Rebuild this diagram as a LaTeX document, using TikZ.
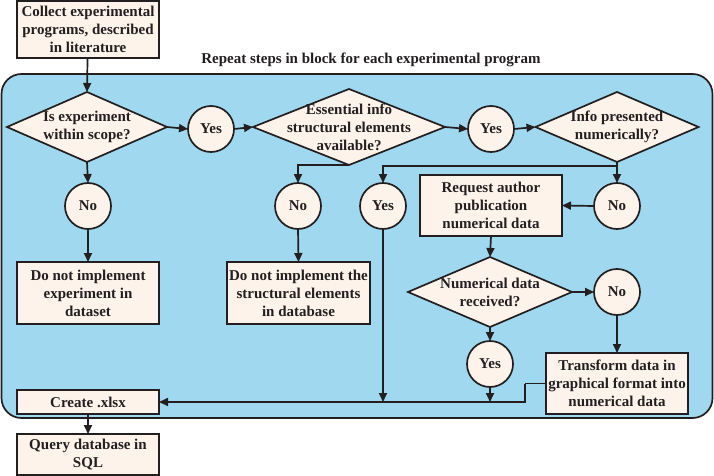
\documentclass[tikz,border=0pt]{standalone}
\usepackage{fontspec}
\setmainfont{Liberation Serif}
\usetikzlibrary{shapes.geometric,arrows.meta}
\definecolor{bluebg}{RGB}{160,216,239}
\definecolor{peach}{RGB}{253,243,234}
\definecolor{ink}{RGB}{35,31,32}
\begin{document}
\begin{tikzpicture}[x=1pt,y=-1pt,line width=1.7pt,
  txt/.style={font=\bfseries\fontsize{15}{18}\selectfont,text=ink,align=center},
  box/.style={txt,draw=ink,fill=peach,inner sep=0pt,outer sep=0pt},
  dia/.style={diamond,draw=ink,fill=peach,inner sep=0pt,outer sep=0pt},
  circ/.style={txt,circle,draw=ink,fill=peach,minimum size=46pt,inner sep=0pt,outer sep=0pt},
  arr/.style={draw=ink,-{Triangle[length=9pt,width=8pt]}},
  ln/.style={draw=ink}]
\useasboundingbox (0,0) rectangle (714,476);
% block
\node[draw=ink,fill=bluebg,rounded corners=20pt,minimum width=711pt,minimum height=344pt,inner sep=0pt] (blk) at (357,246) {};
\node[txt] (title) at (371,60) {Repeat steps in block for each experimental program};
% top box
\node[box,minimum width=142pt,minimum height=57pt] (coll) at (88,29.5) {Collect experimental\\programs, described\\in literature};
% diamonds
\node[dia,minimum width=160pt,minimum height=70pt,label={[txt]center:Is experiment\\within scope?}] (d1) at (87,127) {};
\node[circ] (y1) at (211,129) {Yes};
\node[dia,minimum width=192pt,minimum height=76pt,label={[txt]center:Essential info\\structural elements\\available?}] (d2) at (349,127) {};
\node[circ] (y2) at (491,129) {Yes};
\node[dia,minimum width=163pt,minimum height=70pt,label={[txt]center:Info presented\\numerically?}] (d3) at (617,127) {};
% second row
\node[circ] (n1) at (88,206) {No};
\node[circ] (n2) at (298,206) {No};
\node[circ] (y3) at (383,206) {Yes};
\node[circ] (n3) at (617,206) {No};
\node[box,minimum width=142pt,minimum height=61pt] (req) at (491,205.5) {Request author\\publication\\numerical data};
% third row
\node[box,minimum width=142pt,minimum height=62pt] (b1) at (88,293) {Do not implement\\experiment in\\dataset};
\node[box,minimum width=143pt,minimum height=62pt] (b2) at (298.5,293) {Do not implement the\\structural elements\\in database};
\node[dia,minimum width=164pt,minimum height=70pt,label={[txt]center:Numerical data\\received?}] (d4) at (490,292) {};
\node[circ] (n4) at (617,292) {No};
\node[circ] (y4) at (490,364) {Yes};
\node[box,minimum width=142pt,minimum height=61pt] (tr) at (617,383.5) {Transform data in\\graphical format into\\numerical data};
% bottom
\node[box,minimum width=142pt,minimum height=24pt] (cr) at (88,402) {Create .xlsx};
\node[box,minimum width=142pt,minimum height=41pt] (q) at (88,454.5) {Query database in\\SQL};
\coordinate (j3) at (617,166);
\coordinate (jt) at (525,384);
% connectors
\draw[arr] (coll) -- (d1.north);
\draw[arr] (d1.east) -- (y1.west);
\draw[arr] (y1.east) -- (d2.west);
\draw[arr] (d2.east) -- (y2.west);
\draw[arr] (y2.east) -- (d3.west);
\draw[arr] (d1.south) -- (n1.north);
\draw[arr] (n1.south) -- (b1.north);
\draw[arr] (d2.south) -| (n2.north);
\draw[arr] (n2.south) -- (b2.north);
\draw[ln] (d3.south) -- (j3);
\draw[arr] (j3) -- (n3.north);
\draw[arr] (j3) -| (y3.north);
\draw[arr] (n3.west) -- (req.east);
\draw[arr] (req.south) -- (d4.north);
\draw[arr] (d4.east) -- (n4.west);
\draw[arr] (d4.south) -- (y4.north);
\draw[arr] (n4.south) -- (tr.north);
\draw[arr] (tr.west -| jt) |- (cr.east);
\draw[ln] (tr.west) -- (tr.west -| jt);
\draw[arr] (y4.south) -- (y4.south |- cr.east);
\draw[arr] (y3.south) -- (y3.south |- cr.east);
\draw[arr] (cr.south) -- (q.north);
\end{tikzpicture}
\end{document}
